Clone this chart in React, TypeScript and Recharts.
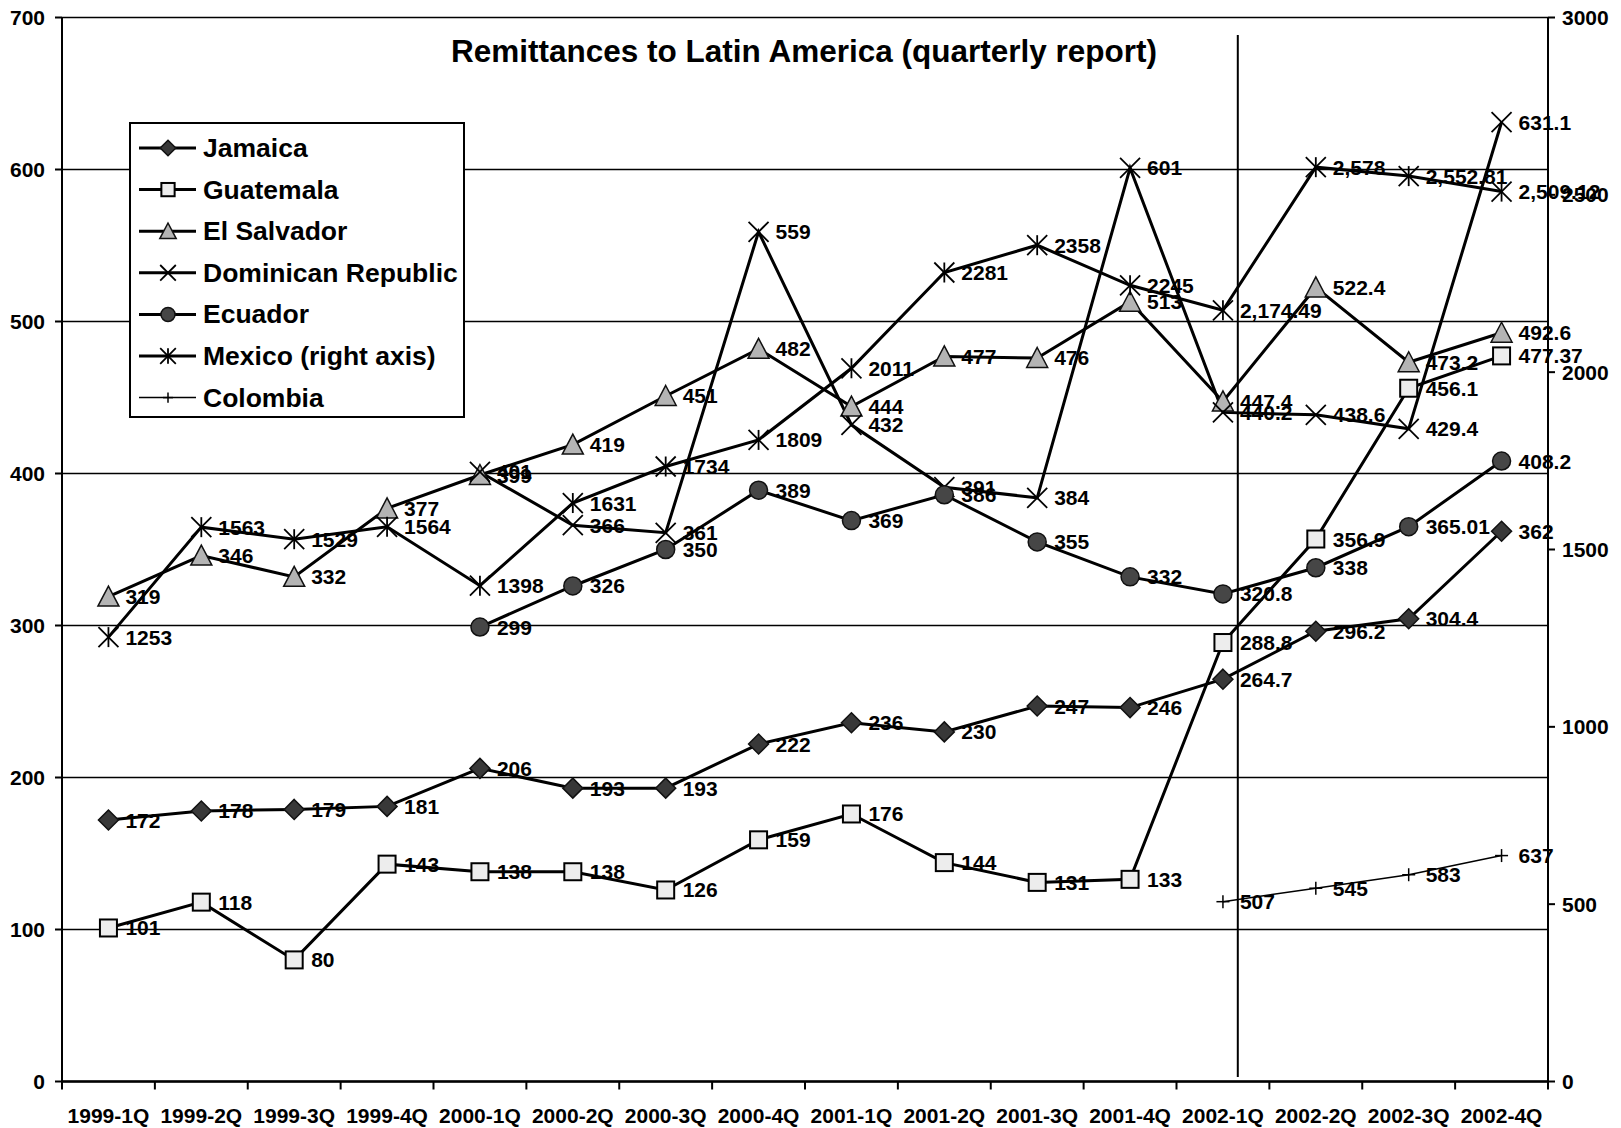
import React from "react";
import {
  LineChart,
  Line,
  XAxis,
  YAxis,
  CartesianGrid,
  ReferenceLine,
  LabelList,
} from "recharts";

const quarters = [
  "1999-1Q", "1999-2Q", "1999-3Q", "1999-4Q",
  "2000-1Q", "2000-2Q", "2000-3Q", "2000-4Q",
  "2001-1Q", "2001-2Q", "2001-3Q", "2001-4Q",
  "2002-1Q", "2002-2Q", "2002-3Q", "2002-4Q",
];

const jamaica = [172, 178, 179, 181, 206, 193, 193, 222, 236, 230, 247, 246, 264.7, 296.2, 304.4, 362];
const guatemala = [101, 118, 80, 143, 138, 138, 126, 159, 176, 144, 131, 133, 288.8, 356.9, 456.1, 477.37];
const elSalvador = [319, 346, 332, 377, 399, 419, 451, 482, 444, 477, 476, 513, 447.4, 522.4, 473.2, 492.6];
const dominicanRepublic = [null, null, null, null, 401, 366, 361, 559, 432, 391, 384, 601, 440.2, 438.6, 429.4, 631.1];
const ecuador = [null, null, null, null, 299, 326, 350, 389, 369, 386, 355, 332, 320.8, 338, 365.01, 408.2];
// right axis
const mexico = [1253, 1563, 1529, 1564, 1398, 1631, 1734, 1809, 2011, 2281, 2358, 2245, 2174.49, 2578, 2552.81, 2509.12];
const colombia = [null, null, null, null, null, null, null, null, null, null, null, null, 507, 545, 583, 637];

const leftTicks = [0, 100, 200, 300, 400, 500, 600, 700];
const rightTicks = [0, 500, 1000, 1500, 2000, 2500, 3000];

// divider drawn a little right of the 2002-1Q point (fraction of a band)
const SPLIT_QUARTER = "2002-1Q";
const SPLIT_SHIFT = 0.16;

const FONT = '"Liberation Sans", Arial, sans-serif';
const PLOT_LEFT = 62;
const PLOT_RIGHT = 1548;
const BAND = (PLOT_RIGHT - PLOT_LEFT) / quarters.length;

const data = quarters.map((q, i) => ({
  q,
  jamaica: jamaica[i],
  guatemala: guatemala[i],
  elSalvador: elSalvador[i],
  dominicanRepublic: dominicanRepublic[i],
  ecuador: ecuador[i],
  mexico: mexico[i],
  colombia: colombia[i],
}));

type Shape = "diamond" | "square" | "triangle" | "x" | "circle" | "asterisk" | "plus";

function Marker({ shape, cx, cy, s = 1 }: { shape: Shape; cx: number; cy: number; s?: number }) {
  switch (shape) {
    case "diamond": {
      const r = 10 * s;
      return (
        <polygon
          points={`${cx},${cy - r} ${cx + r},${cy} ${cx},${cy + r} ${cx - r},${cy}`}
          fill="#383838"
          stroke="#111"
          strokeWidth={1.5}
        />
      );
    }
    case "square": {
      const r = 8.5 * s;
      return <rect x={cx - r} y={cy - r} width={2 * r} height={2 * r} fill="#ededed" stroke="#000" strokeWidth={2} />;
    }
    case "triangle": {
      const r = 10.5 * s;
      return (
        <polygon
          points={`${cx},${cy - r} ${cx + r},${cy + r * 0.9} ${cx - r},${cy + r * 0.9}`}
          fill="#b4b4b4"
          stroke="#111"
          strokeWidth={1.5}
        />
      );
    }
    case "circle":
      return <circle cx={cx} cy={cy} r={9 * s} fill="#464646" stroke="#111" strokeWidth={1.5} />;
    case "x": {
      const r = 10 * s;
      return (
        <g stroke="#000" strokeWidth={1.8}>
          <line x1={cx - r} y1={cy - r} x2={cx + r} y2={cy + r} />
          <line x1={cx - r} y1={cy + r} x2={cx + r} y2={cy - r} />
        </g>
      );
    }
    case "asterisk": {
      const r = 10 * s;
      return (
        <g stroke="#000" strokeWidth={1.8}>
          <line x1={cx - r} y1={cy - r} x2={cx + r} y2={cy + r} />
          <line x1={cx - r} y1={cy + r} x2={cx + r} y2={cy - r} />
          <line x1={cx} y1={cy - r} x2={cx} y2={cy + r} />
        </g>
      );
    }
    case "plus": {
      const r = 6.5 * s;
      return (
        <g stroke="#000" strokeWidth={1.5}>
          <line x1={cx - r} y1={cy} x2={cx + r} y2={cy} />
          <line x1={cx} y1={cy - r} x2={cx} y2={cy + r} />
        </g>
      );
    }
  }
  return null;
}

const makeDot = (shape: Shape) => (props: any) => {
  const { cx, cy, index, value } = props;
  if (cx == null || cy == null || value == null || (Array.isArray(value) && value[1] == null)) {
    return <g key={`dot-${shape}-${index}`} />;
  }
  return (
    <g key={`dot-${shape}-${index}`}>
      <Marker shape={shape} cx={cx} cy={cy} />
    </g>
  );
};

const plain = (v: number) => String(v);
const mexicoFmt = (v: number, i: number) => (i >= 12 ? v.toLocaleString("en-US") : String(v));

const makeLabel = (fmt: (v: number, i: number) => string) => (props: any) => {
  const { value, index } = props;
  const x = props.x ?? props.viewBox?.x;
  const y = props.y ?? props.viewBox?.y;
  if (value == null || x == null || y == null) return null;
  return (
    <text
      key={`lbl-${index}`}
      x={Number(x) + 17}
      y={Number(y) + 7.5}
      fontSize={21}
      fontWeight="bold"
      fontFamily={FONT}
      fill="#000"
    >
      {fmt(Number(value), index)}
    </text>
  );
};

const QuarterTick = (props: any) => {
  const { x, y, payload, index } = props;
  const half = typeof payload?.offset === "number" && payload.offset > 0 ? payload.offset : BAND / 2;
  return (
    <g>
      <line x1={x - half} x2={x - half} y1={y} y2={y + 8} stroke="#000" strokeWidth={2} />
      {index === quarters.length - 1 && (
        <line x1={x + half} x2={x + half} y1={y} y2={y + 8} stroke="#000" strokeWidth={2} />
      )}
      <text x={x} y={y + 41} textAnchor="middle" fontSize={21} fontWeight="bold" fontFamily={FONT} fill="#000">
        {payload.value}
      </text>
    </g>
  );
};

const DividerShape = (props: any) => {
  const dx = SPLIT_SHIFT * BAND;
  return (
    <line
      x1={Number(props.x1) + dx}
      x2={Number(props.x2) + dx}
      y1={props.y1}
      y2={props.y2}
      stroke="#000"
      strokeWidth={2}
    />
  );
};

const series: { key: string; name: string; shape: Shape; axis: string; width: number; fmt: (v: number, i: number) => string }[] = [
  { key: "jamaica", name: "Jamaica", shape: "diamond", axis: "left", width: 3, fmt: plain },
  { key: "guatemala", name: "Guatemala", shape: "square", axis: "left", width: 3, fmt: plain },
  { key: "elSalvador", name: "El Salvador", shape: "triangle", axis: "left", width: 3, fmt: plain },
  { key: "dominicanRepublic", name: "Dominican Republic", shape: "x", axis: "left", width: 3, fmt: plain },
  { key: "ecuador", name: "Ecuador", shape: "circle", axis: "left", width: 3, fmt: plain },
  { key: "mexico", name: "Mexico (right axis)", shape: "asterisk", axis: "right", width: 3, fmt: mexicoFmt },
  { key: "colombia", name: "Colombia", shape: "plus", axis: "right", width: 1.5, fmt: plain },
];

const axisTick = { fill: "#000", fontSize: 21, fontWeight: "bold", fontFamily: FONT };

export default function App() {
  return (
    <div style={{ position: "absolute", left: 0, top: 0, width: 1621, height: 1128, background: "#fff" }}>
      <LineChart width={1621} height={1128} data={data} margin={{ top: 17.5, right: 0, bottom: 0, left: 0 }}>
        <CartesianGrid yAxisId="left" vertical={false} stroke="#000" strokeWidth={1.4} />
        <XAxis
          dataKey="q"
          scale="band"
          interval={0}
          height={46.5}
          tickSize={0}
          tickMargin={0}
          tickLine={false}
          axisLine={{ stroke: "#000", strokeWidth: 2.5 }}
          tick={<QuarterTick />}
        />
        <YAxis
          yAxisId="left"
          domain={[0, 700]}
          ticks={leftTicks}
          width={62}
          tickSize={7}
          tickMargin={10}
          axisLine={{ stroke: "#000", strokeWidth: 2 }}
          tickLine={{ stroke: "#000", strokeWidth: 2 }}
          tick={axisTick}
        />
        <YAxis
          yAxisId="right"
          orientation="right"
          domain={[0, 3000]}
          ticks={rightTicks}
          width={73}
          tickSize={7}
          tickMargin={7}
          axisLine={{ stroke: "#000", strokeWidth: 2 }}
          tickLine={{ stroke: "#000", strokeWidth: 2 }}
          tick={axisTick}
        />
        <ReferenceLine
          yAxisId="left"
          segment={[
            { x: SPLIT_QUARTER, y: 688.5 },
            { x: SPLIT_QUARTER, y: 3 },
          ]}
          shape={DividerShape}
        />
        {series.map((s) => (
          <Line
            key={s.key}
            yAxisId={s.axis}
            dataKey={s.key}
            name={s.name}
            stroke="#000"
            strokeWidth={s.width}
            dot={makeDot(s.shape)}
            activeDot={false}
            isAnimationActive={false}
          >
            <LabelList dataKey={s.key} content={makeLabel(s.fmt)} />
          </Line>
        ))}
      </LineChart>

      <svg
        width={1621}
        height={1128}
        style={{ position: "absolute", left: 0, top: 0, pointerEvents: "none" }}
      >
        <text x={804} y={62} textAnchor="middle" fontSize={31.5} fontWeight="bold" fontFamily={FONT} fill="#000">
          Remittances to Latin America (quarterly report)
        </text>
        <rect x={130} y={123} width={334} height={294} fill="#fff" stroke="#000" strokeWidth={2} />
        {series.map((s, i) => {
          const cy = 148 + i * 41.6;
          return (
            <g key={s.key}>
              <line x1={139} x2={196} y1={cy} y2={cy} stroke="#000" strokeWidth={s.width} />
              <Marker shape={s.shape} cx={168} cy={cy} s={0.78} />
              <text x={203} y={cy + 9} fontSize={26.5} fontWeight="bold" fontFamily={FONT} fill="#000">
                {s.name}
              </text>
            </g>
          );
        })}
      </svg>
    </div>
  );
}
